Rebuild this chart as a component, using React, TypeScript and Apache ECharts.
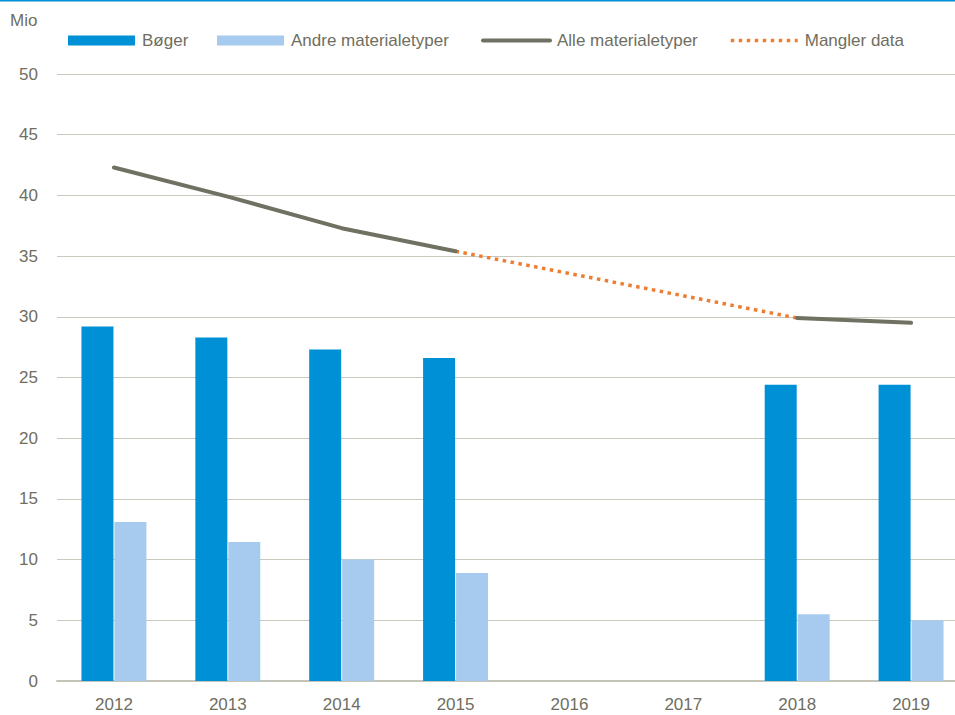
import React, { useEffect, useRef } from "react";
import * as echarts from "echarts";

const years = ["2012", "2013", "2014", "2015", "2016", "2017", "2018", "2019"];
const boger = [29.2, 28.3, 27.3, 26.6, null, null, 24.4, 24.4];
const andre = [13.1, 11.45, 10.0, 8.9, null, null, 5.5, 5.0];
const alle = [42.3, 39.9, 37.3, 35.4, null, null, 29.9, 29.5];
const mangler = [null, null, null, 35.4, null, null, 29.9, null];

const TEXT = "#6f6e60";
const FONT = "Liberation Sans, Arial, sans-serif";

export default function App() {
  const ref = useRef<HTMLDivElement>(null);
  useEffect(() => {
    const chart = echarts.init(ref.current!, null, { renderer: "svg" });
    const legendBase = {
      top: 32,
      padding: 0,
      itemWidth: 67,
      itemHeight: 10,
      itemGap: 5,
      textStyle: { color: TEXT, fontSize: 17, fontFamily: FONT, padding: [0, 0, 0, 2] },
      selectedMode: false,
    };
    chart.setOption({
      animation: false,
      backgroundColor: "#ffffff",
      grid: { left: 57, top: 74, width: 911, height: 607 },
      graphic: [
        { type: "rect", left: 0, top: 0, shape: { width: 980, height: 1.5 }, style: { fill: "#0090d5" } },
        { type: "text", left: 10, top: 12, style: { text: "Mio", fill: TEXT, fontSize: 17, fontFamily: FONT } },
      ],
      legend: [
        { ...legendBase, left: 68, data: [{ name: "Bøger", icon: "rect" }] },
        { ...legendBase, left: 217, data: [{ name: "Andre materialetyper", icon: "rect" }] },
        {
          ...legendBase,
          left: 481,
          data: ["Alle materialetyper"],
          itemStyle: { opacity: 0 },
          lineStyle: { width: 4, cap: "round" },
        },
        {
          ...legendBase,
          left: 729,
          data: ["Mangler data"],
          itemStyle: { opacity: 0 },
          lineStyle: { width: 3.5, type: [3.5, 4.5] },
        },
      ],
      xAxis: {
        type: "category",
        data: years,
        axisLine: { lineStyle: { color: "#c4c4b8", width: 2 } },
        axisTick: { show: false },
        axisLabel: { color: TEXT, fontSize: 17, fontFamily: FONT, margin: 15 },
      },
      yAxis: {
        type: "value",
        min: 0,
        max: 50,
        interval: 5,
        axisLine: { show: false },
        axisTick: { show: false },
        splitLine: { lineStyle: { color: "#c8c8bd", width: 1 } },
        axisLabel: { color: TEXT, fontSize: 17, fontFamily: FONT, margin: 19 },
      },
      series: [
        {
          name: "Bøger",
          type: "bar",
          data: boger,
          barWidth: 32,
          barGap: "3%",
          itemStyle: { color: "#0090d5" },
        },
        {
          name: "Andre materialetyper",
          type: "bar",
          data: andre,
          barWidth: 32,
          itemStyle: { color: "#a6cbee" },
        },
        {
          name: "Alle materialetyper",
          type: "line",
          data: alle,
          symbol: "none",
          connectNulls: false,
          lineStyle: { color: "#717163", width: 4, cap: "round" },
          itemStyle: { color: "#717163" },
          z: 4,
        },
        {
          name: "Mangler data",
          type: "line",
          data: mangler,
          symbol: "none",
          connectNulls: true,
          lineStyle: { color: "#ed7d31", width: 3.5, type: [3.5, 4.5] },
          itemStyle: { color: "#ed7d31" },
          z: 3,
        },
      ],
    });
    return () => chart.dispose();
  }, []);
  return (
    <div style={{ position: "fixed", left: 0, top: 0, width: 955, height: 715, overflow: "hidden" }}>
      <div ref={ref} style={{ width: 980, height: 715 }} />
    </div>
  );
}
